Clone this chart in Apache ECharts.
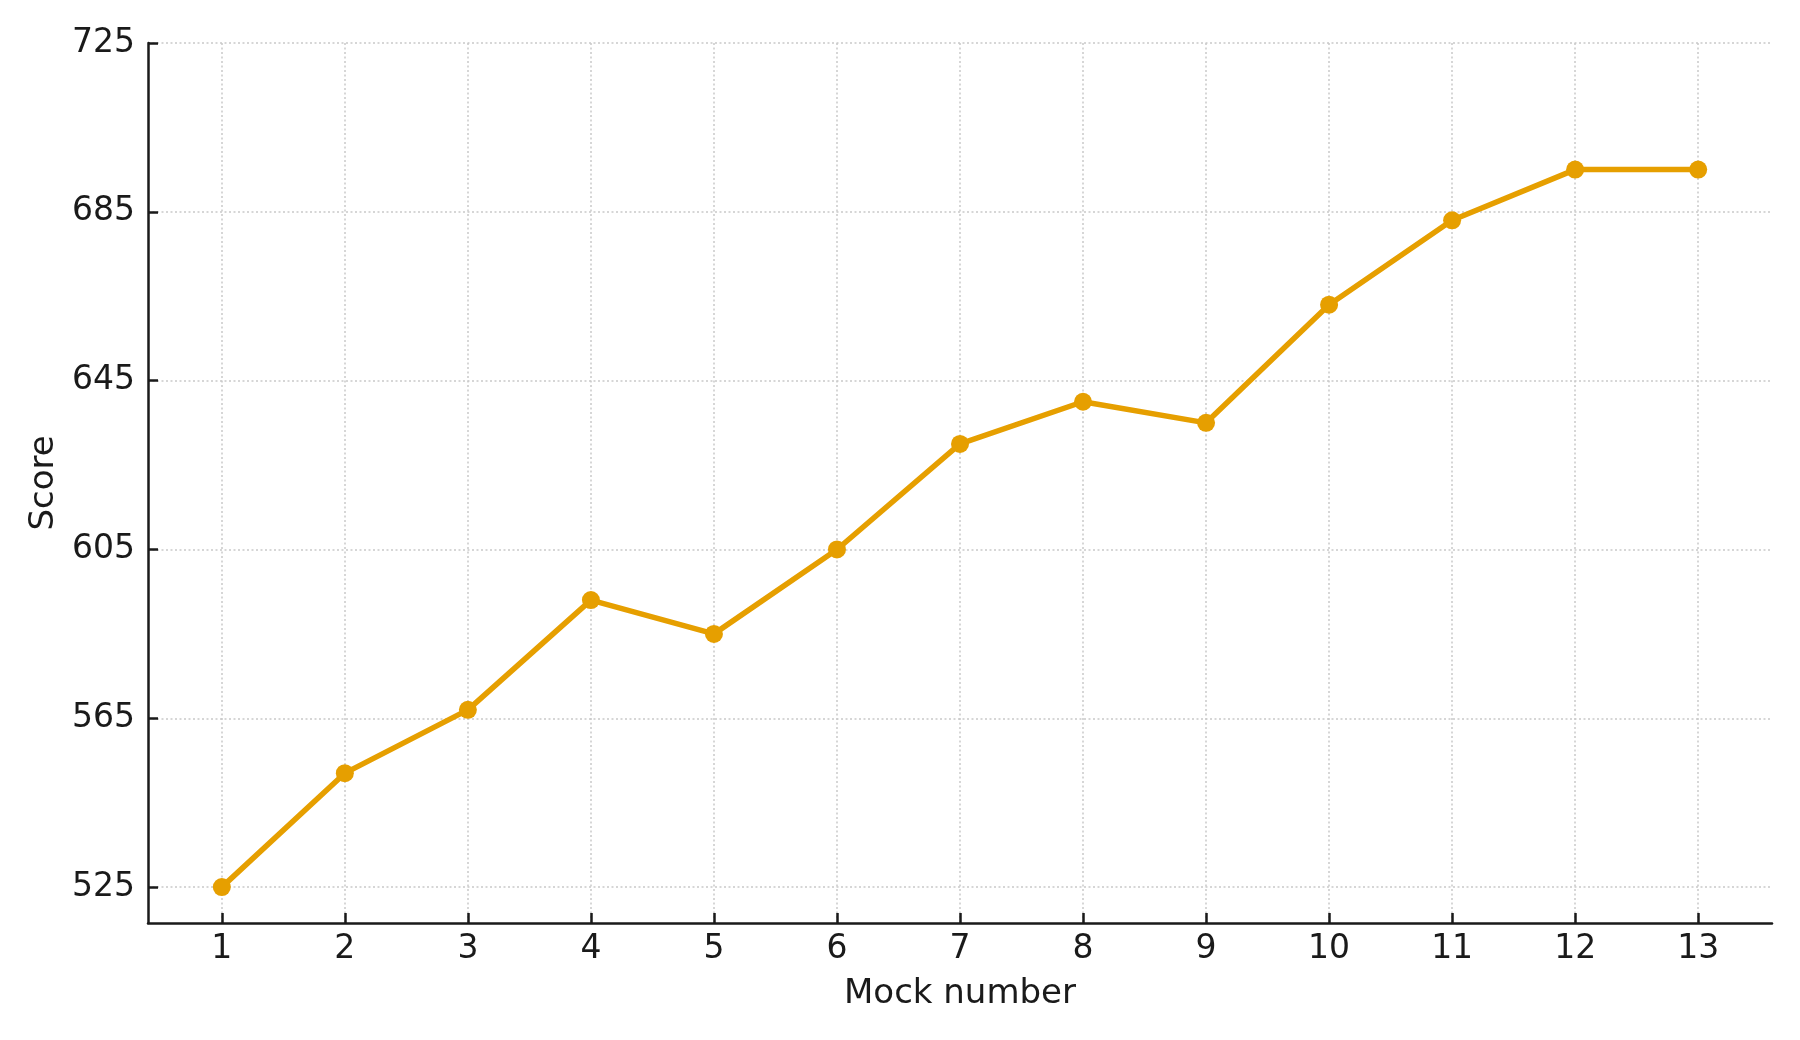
<!DOCTYPE html>
<html>
<head>
<meta charset="utf-8">
<title>Mock scores</title>
<script src="https://cdn.jsdelivr.net/npm/echarts@6/dist/echarts.min.js"></script>
<style>
  html, body { margin: 0; padding: 0; background: #fff; }
  #main { width: 1800px; height: 1040px; }
</style>
</head>
<body>
<div id="main"></div>
<script>
// mock number on x, score on y
var mocks = [1, 2, 3, 4, 5, 6, 7, 8, 9, 10, 11, 12, 13];
var scores = [525, 552, 567, 593, 585, 605, 630, 640, 635, 663, 683, 695, 695];
var yTicks = [525, 565, 605, 645, 685, 725];

var textColor = '#1a1a1a';
var fontFam = '"DejaVu Sans", sans-serif';

var points = [];
for (var i = 0; i < mocks.length; i++) {
    points.push([mocks[i], scores[i]]);
}

var myChart = echarts.init(document.getElementById('main'), null, {renderer: 'canvas'});

var gridLine = {
    show: true,
    lineStyle: { color: '#c9c9c9', width: 1.5, type: [2, 2.5] }
};

var option = {
    animation: false,
    backgroundColor: '#ffffff',
    grid: { left: 148, right: 28, top: 43, bottom: 117, containLabel: false },
    xAxis: {
        type: 'value',
        min: 0.4,
        max: 13.6,
        name: 'Mock number',
        nameLocation: 'middle',
        nameGap: 54,
        nameTextStyle: { color: textColor, fontSize: 34, fontFamily: fontFam },
        axisLine: { show: true, lineStyle: { color: '#1a1a1a', width: 2.5 } },
        axisTick: { show: true, inside: true, length: 10, customValues: mocks, lineStyle: { color: '#1a1a1a', width: 2.5 } },
        axisLabel: { customValues: mocks, margin: 10, color: textColor, fontSize: 33, fontFamily: fontFam },
        splitLine: gridLine
    },
    yAxis: {
        type: 'value',
        min: 516.5,
        max: 725,
        name: 'Score',
        nameLocation: 'middle',
        nameGap: 83,
        nameTextStyle: { color: textColor, fontSize: 34, fontFamily: fontFam },
        axisLine: { show: true, lineStyle: { color: '#1a1a1a', width: 2.5 } },
        axisTick: { show: true, inside: true, length: 10, customValues: yTicks, lineStyle: { color: '#1a1a1a', width: 2.5 } },
        axisLabel: { customValues: yTicks, margin: 13, padding: [6, 0, 0, 0], color: textColor, fontSize: 33, fontFamily: fontFam },
        splitLine: gridLine
    },
    series: [
        {
            type: 'line',
            data: points,
            color: '#E69F00',
            symbol: 'circle',
            symbolSize: 18,
            lineStyle: { width: 5.5, color: '#E69F00' },
            itemStyle: { color: '#E69F00' }
        }
    ]
};
myChart.setOption(option);
</script>
</body>
</html>
